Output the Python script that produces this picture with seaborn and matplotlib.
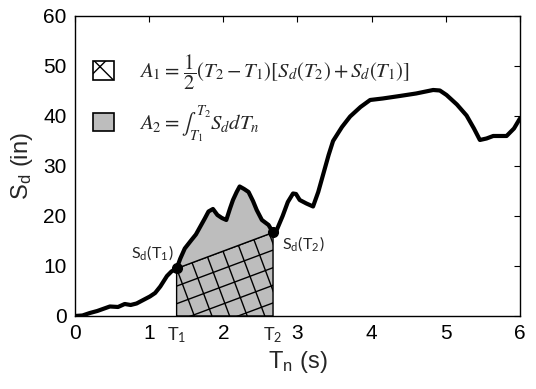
import numpy as np
import matplotlib
matplotlib.use("Agg")
import matplotlib.pyplot as plt
import seaborn as sns
from matplotlib.patches import Polygon, Patch
from matplotlib.lines import Line2D

# ---- data ----
T_n = [0.0, 0.1, 0.2, 0.3, 0.47, 0.58, 0.67, 0.75, 0.83, 0.92, 1.01, 1.08, 1.15, 1.24, 1.30, 1.37,
       1.42, 1.48, 1.57, 1.63, 1.69, 1.75, 1.80, 1.86, 1.92, 1.98, 2.04, 2.09, 2.13, 2.18, 2.22,
       2.28, 2.34, 2.40, 2.45, 2.52, 2.61, 2.67, 2.72, 2.80, 2.87, 2.94, 2.98, 3.03, 3.12, 3.21,
       3.28, 3.35, 3.42, 3.48, 3.60, 3.71, 3.85, 3.98, 4.15, 4.38, 4.60, 4.83, 4.92, 5.01, 5.15,
       5.28, 5.38, 5.46, 5.55, 5.64, 5.82, 5.92, 6.0]
S_d = [0.0, 0.1, 0.6, 1.0, 1.9, 1.8, 2.4, 2.2, 2.5, 3.2, 3.9, 4.6, 5.9, 8.0, 8.9, 9.5,
       11.5, 13.5, 15.2, 16.3, 17.9, 19.5, 20.9, 21.4, 20.2, 19.6, 19.2, 21.5, 23.2, 24.8, 25.9,
       25.4, 24.8, 23.0, 21.2, 19.2, 18.2, 16.7, 17.2, 20.0, 22.8, 24.5, 24.4, 23.2, 22.5, 21.9,
       24.8, 28.5, 32.2, 35.0, 37.8, 39.9, 41.8, 43.2, 43.5, 44.0, 44.5, 45.2, 45.1, 44.2, 42.3,
       40.1, 37.5, 35.2, 35.5, 36.0, 36.0, 37.5, 39.5]
T1, T2 = 1.37, 2.67
S1, S2 = 9.5, 16.7

x_ticks = [0, 1, 2, 3, 4, 5, 6]
y_ticks = [0, 10, 20, 30, 40, 50, 60]

sns.set_style("white")
plt.rcParams['font.family'] = ['Liberation Sans', 'DejaVu Sans']
plt.rcParams['mathtext.fontset'] = 'stix'

fig = plt.figure(figsize=(5.36, 3.89), dpi=100)
L, R, B, TP = 0.14, 0.970, 0.1877, 0.9589
ax = fig.add_axes([L, B, R - L, TP - B])

Tn = np.array(T_n); Sd = np.array(S_d)
mask = (Tn >= T1) & (Tn <= T2)
ax.fill_between(Tn[mask], 0, Sd[mask], color='#bdbdbd', lw=0, zorder=1)

# trapezoid with rotated grid hatch
trap = Polygon([[T1, 0], [T1, S1], [T2, S2], [T2, 0]], closed=True,
               facecolor='none', edgecolor='black', lw=1.0, zorder=3)
ax.add_patch(trap)
ax.set_xlim(0, 6); ax.set_ylim(0, 60)
W_px = 536 * (R - L); H_px = 389 * (TP - B)
sx = W_px / 6.0; sy = H_px / 60.0
ang = np.arctan2((S2 - S1) * sy, (T2 - T1) * sx)
sp = 16.5
u = np.array([np.cos(ang), np.sin(ang)])
v = np.array([-np.sin(ang), np.cos(ang)])
for d_, n_ in ((u, v), (v, u)):
    for k in range(-20, 21):
        p0 = n_ * (k * sp) + np.array([T1 * sx, S1 * sy])
        a = p0 - d_ * 500; b = p0 + d_ * 500
        ln = Line2D([a[0] / sx, b[0] / sx], [a[1] / sy, b[1] / sy], color='black', lw=1.0, zorder=2)
        ax.add_line(ln)
        ln.set_clip_path(trap)

sns.lineplot(x=T_n, y=S_d, ax=ax, color='black', lw=3.0, zorder=4)
ax.plot([T1, T2], [S1, S2], 'o', color='black', ms=7, zorder=5)

ax.set_xlim(0, 6); ax.set_ylim(0, 60)
ax.set_xticks(x_ticks); ax.set_yticks(y_ticks)
ax.tick_params(direction='in', length=4, width=0.8, top=True, right=True,
               labelsize=15, pad=6, colors='black')
for s in ax.spines.values():
    s.set_color('black'); s.set_linewidth(1.0)

ax.set_xlabel(r'T$_\mathregular{n}$ (s)', fontsize=17, labelpad=4)
ax.set_ylabel(r'S$_\mathregular{d}$ (in)', fontsize=17, labelpad=6)

ax.text(T1, -2.0, r'T$_\mathregular{1}$', ha='center', va='top', fontsize=13, family='Lato')
ax.text(T2, -2.0, r'T$_\mathregular{2}$', ha='center', va='top', fontsize=13, family='Lato')
ax.text(T1 - 0.04, 10.8, r'S$_\mathregular{d}$(T$_\mathregular{1}$)', ha='right', va='bottom',
        fontsize=11.5, family='Lato')
ax.text(T2 + 0.12, 14.5, r'S$_\mathregular{d}$(T$_\mathregular{2}$)', ha='left', va='center',
        fontsize=11.5, family='Lato')

handles = [Patch(facecolor='white', edgecolor='black', hatch='x', lw=1.2),
           Patch(facecolor='#bdbdbd', edgecolor='black', lw=1.2)]
labels = [r'$A_1 = \,\dfrac{1}{2}(T_2 - T_1)[S_d(T_2) + S_d(T_1)]$',
          r'$A_2 = \int_{T_1}^{T_2} S_d dT_n$']
leg = ax.legend(handles, labels, loc='upper left', bbox_to_anchor=(0.022, 0.905),
                frameon=False, fontsize=15, handlelength=1.0, handleheight=1.0,
                handletextpad=1.2, labelspacing=0.55, borderaxespad=0)

fig.savefig('out.png', dpi=100)
